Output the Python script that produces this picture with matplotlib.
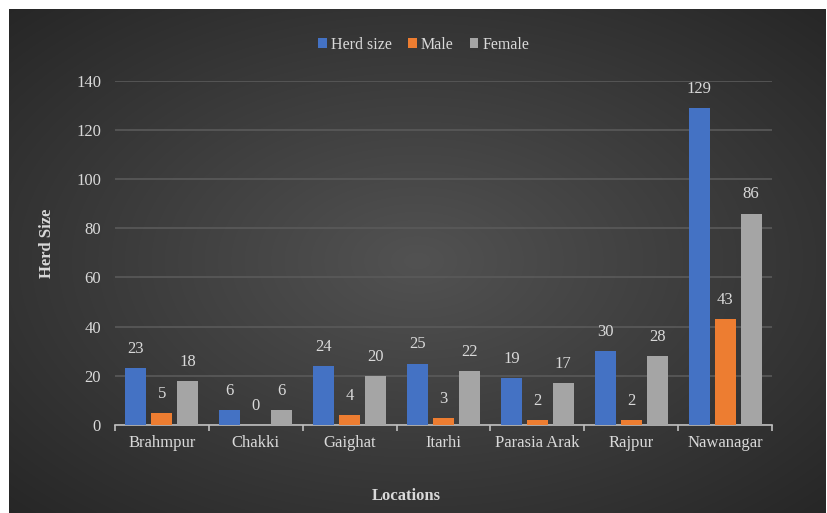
import numpy as np
import matplotlib
matplotlib.use("Agg")
import matplotlib.pyplot as plt

categories = ["Brahmpur", "Chakki", "Gaighat", "Itarhi", "Parasia Arak", "Rajpur", "Nawanagar"]
herd_size = [23, 6, 24, 25, 19, 30, 129]
male = [5, 0, 4, 3, 2, 2, 43]
female = [18, 6, 20, 22, 17, 28, 86]
series_names = ["Herd size", "Male", "Female"]
series_colors = ["#4472C4", "#ED7D31", "#A5A5A5"]
y_ticks = [0, 20, 40, 60, 80, 100, 120, 140]

plt.rcParams['font.family'] = ['Liberation Serif', 'DejaVu Serif']
txt = "#d9d9d9"
fs = 12

W, H = 827, 513
fig = plt.figure(figsize=(W/100, H/100), dpi=100, facecolor="white")

# dark radial gradient background
bg = fig.add_axes([9/W, 0, (W-10)/W, (H-9)/H])
bg.set_axis_off()
yy, xx = np.mgrid[0:1:300j, 0:1:500j]
r = np.sqrt(((xx-0.5)/0.75)**2 + ((yy-0.5)/0.75)**2)
r = np.clip(r, 0, 1)
c0 = np.array([0x52, 0x52, 0x52])/255
c1 = np.array([0x24, 0x24, 0x24])/255
img = c0[None, None, :]*(1-r[..., None]) + c1[None, None, :]*r[..., None]
bg.imshow(img, aspect='auto', extent=[0, 1, 0, 1], interpolation='bilinear')

ax = fig.add_axes([115/W, 1-425/H, (772-115)/W, (425-80.7)/H])
ax.set_facecolor("none")
x = np.arange(len(categories))
off = 0.277
bw = 0.225
for i, (vals, name, col) in enumerate(zip([herd_size, male, female], series_names, series_colors)):
    bars = ax.bar(x + (i-1)*off, vals, bw, color=col, label=name, zorder=3)
    for b, v in zip(bars, vals):
        ax.annotate(str(v), (b.get_x()+b.get_width()/2, v), xytext=(0, 8),
                    textcoords="offset points", ha="center", va="bottom",
                    color=txt, fontsize=fs)

ax.set_xlim(-0.5, len(categories)-0.5)
ax.set_ylim(0, 140)
ax.set_yticks(y_ticks)
ax.yaxis.grid(True, color="#5a5a5a", linewidth=1.2, zorder=0)
ax.set_axisbelow(True)
ax.tick_params(axis='y', length=0, colors=txt, labelsize=fs, pad=10)
ax.set_xticks(x)
ax.set_xticklabels(categories)
ax.tick_params(axis='x', length=0, colors=txt, labelsize=fs, pad=7)
ax.set_xticks(np.arange(-0.5, len(categories)), minor=True)
ax.tick_params(axis='x', which='minor', length=4, color="#bfbfbf", width=1.2)
for s in ["top", "right", "left"]:
    ax.spines[s].set_visible(False)
ax.spines["bottom"].set_color("#bfbfbf")
ax.spines["bottom"].set_linewidth(1.2)

ax.set_ylabel("Herd Size", color=txt, fontsize=fs, fontweight="bold")
ax.yaxis.set_label_coords(-0.091, 0.529)
ax.set_xlabel("Locations", color=txt, fontsize=fs, fontweight="bold")
ax.xaxis.set_label_coords(0.444, -0.183)

leg = ax.legend(loc="lower center", bbox_to_anchor=(0.47, 1.04), ncol=3, frameon=False,
                fontsize=11.5, handlelength=0.55, handleheight=0.55, handletextpad=0.25,
                columnspacing=1.0)
for t in leg.get_texts():
    t.set_color(txt)

fig.savefig("out.png", dpi=100, facecolor=fig.get_facecolor())
